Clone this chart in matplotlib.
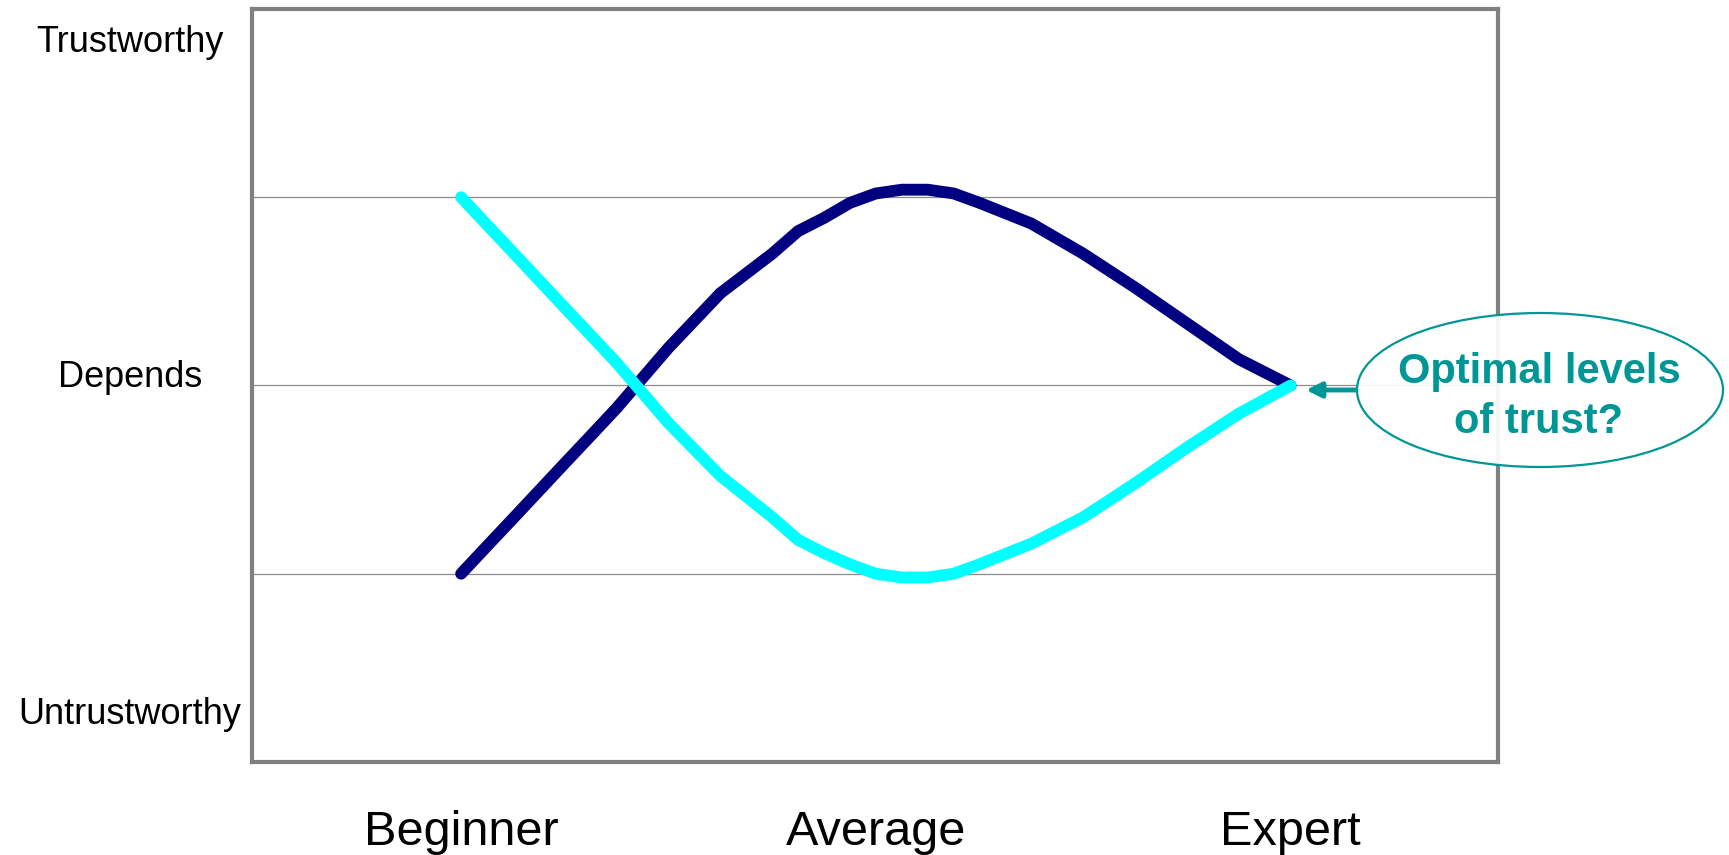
import numpy as np
import matplotlib
matplotlib.use("Agg")
import matplotlib.pyplot as plt
from matplotlib.patches import Ellipse

plt.rcParams['font.family'] = ['Liberation Sans', 'DejaVu Sans']

# skill axis: 33 evenly spaced steps from Beginner (0) to Expert (2)
steps = np.arange(33) / 16

# perceived trust of the two attitudes (0 = untrustworthy, 4 = trustworthy)
trust_dark = [1.0, 1.147, 1.293, 1.44, 1.587, 1.733, 1.88, 2.04, 2.2, 2.345,
              2.49, 2.595, 2.7, 2.82, 2.89, 2.97, 3.02, 3.04, 3.04, 3.02, 2.97,
              2.915, 2.86, 2.78, 2.7, 2.61, 2.52, 2.425, 2.33, 2.235, 2.14,
              2.07, 2.0]
trust_light = [3.0, 2.853, 2.707, 2.56, 2.413, 2.267, 2.12, 1.96, 1.8, 1.66,
               1.52, 1.41, 1.3, 1.18, 1.11, 1.05, 1.0, 0.98, 0.98, 1.0, 1.05,
               1.105, 1.16, 1.23, 1.3, 1.39, 1.48, 1.575, 1.67, 1.76, 1.85,
               1.925, 2.0]

skill_levels = ['Beginner', 'Average', 'Expert']
skill_pos = [0, 1, 2]
level_labels = ['Untrustworthy', 'Depends', 'Trustworthy']
level_pos = [0.2, 1.99, 3.77]
grid_levels = [1, 2, 3]

teal = '#009696'

fig = plt.figure(figsize=(17.29, 8.55), dpi=100)
ax = fig.add_axes([0.1458, 0.1088, 0.8664 - 0.1458, 0.9895 - 0.1088])

for g in grid_levels:
    ax.axhline(g, color='#8c8c8c', lw=0.9, zorder=1)

ax.plot(steps, trust_dark, color='#000080', lw=8.5, solid_capstyle='round',
        solid_joinstyle='miter', zorder=3)
ax.plot(steps, trust_light, color='#00ffff', lw=8.5, solid_capstyle='round',
        solid_joinstyle='miter', zorder=4)

ax.set_xlim(-0.504, 2.5)
ax.set_ylim(0, 4)

for s in ax.spines.values():
    s.set_color('#808080')
    s.set_linewidth(3)

ax.set_xticks(skill_pos, skill_levels, fontsize=35)
ax.tick_params(axis='x', length=0, pad=60)
for lab in ax.get_xticklabels():
    lab.set_verticalalignment('baseline')

ax.set_yticks(level_pos, level_labels, fontsize=26)
ax.tick_params(axis='y', length=0, pad=88)
for lab in ax.get_yticklabels():
    lab.set_horizontalalignment('center')
    lab.set_verticalalignment('baseline')

# callout bubble on the right
W, H = 1729, 855
bubble = Ellipse((1540 / W, 1 - 390 / H), 366 / W, 154 / H,
                 transform=fig.transFigure, facecolor='white', alpha=0.93,
                 edgecolor='none', zorder=5)
fig.patches.append(bubble)
bubble_edge = Ellipse((1540 / W, 1 - 390 / H), 366 / W, 154 / H,
                      transform=fig.transFigure, facecolor='none',
                      edgecolor=teal, lw=1.6, zorder=6)
fig.patches.append(bubble_edge)
fig.text(1539 / W, 1 - 397 / H, 'Optimal levels\nof trust?', ha='center',
         va='center', fontsize=30, fontweight='bold', color=teal,
         linespacing=1.32, zorder=7)

ax.annotate('', xy=(1306, H - 390), xycoords='figure pixels',
            xytext=(1358, H - 390), textcoords='figure pixels',
            arrowprops=dict(arrowstyle='-|>,head_length=0.9,head_width=0.45',
                            color=teal, lw=3.5, shrinkA=0, shrinkB=0),
            zorder=6, annotation_clip=False)

fig.savefig('out.png', dpi=100)
